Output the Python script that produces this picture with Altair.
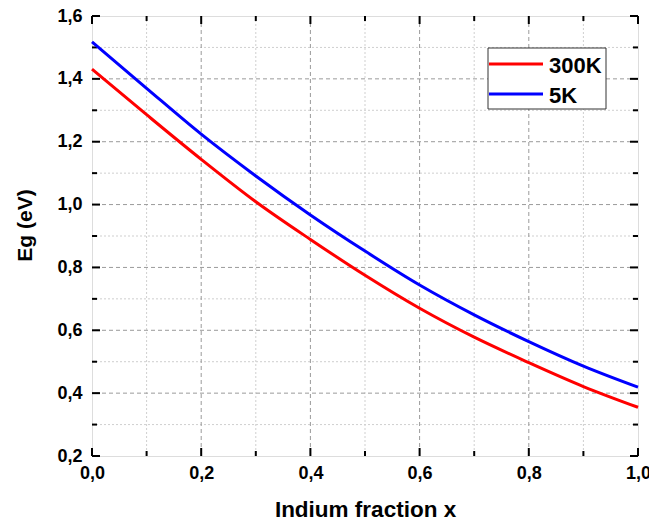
import altair as alt
import pandas as pd

# ---- data ----
indium_x = [0.0, 0.1, 0.2, 0.3, 0.4, 0.5, 0.6, 0.7, 0.8, 0.9, 1.0]
eg_300k = [1.431, 1.286, 1.144, 1.009, 0.889, 0.775, 0.670, 0.578, 0.497, 0.421, 0.355]
eg_5k = [1.518, 1.370, 1.224, 1.091, 0.967, 0.852, 0.744, 0.649, 0.564, 0.486, 0.419]
series_names = ["300K", "5K"]
series_colors = ["#ff0000", "#0000ff"]

x_major = [0.0, 0.2, 0.4, 0.6, 0.8, 1.0]
x_minor = [0.1, 0.3, 0.5, 0.7, 0.9]
y_major = [0.2, 0.4, 0.6, 0.8, 1.0, 1.2, 1.4, 1.6]
y_minor = [0.3, 0.5, 0.7, 0.9, 1.1, 1.3, 1.5]

W, H = 546, 440
FONT = "Liberation Sans"
LBL = "replace(format(datum.value, '.1f'), '.', ',')"

rows = []
for name, vals in zip(series_names, [eg_300k, eg_5k]):
    for xv, yv in zip(indium_x, vals):
        rows.append({"x": xv, "eg": yv, "series": name})
df = pd.DataFrame(rows)

xs = alt.Scale(domain=[0, 1], nice=False, zero=False)
ys = alt.Scale(domain=[0.2, 1.6], nice=False, zero=False)

xgrid_major = pd.DataFrame({"x": x_major[1:-1]})
xgrid_minor = pd.DataFrame({"x": x_minor})
ygrid_major = pd.DataFrame({"eg": y_major[1:-1]})
ygrid_minor = pd.DataFrame({"eg": y_minor})
xt_major = pd.DataFrame({"x": x_major})
xt_minor = pd.DataFrame({"x": x_minor})
yt_major = pd.DataFrame({"eg": y_major})
yt_minor = pd.DataFrame({"eg": y_minor})

layers = []
# minor grid (dotted)
layers.append(alt.Chart(xgrid_minor).mark_rule(color="#cfcfcf", strokeWidth=1, strokeDash=[2, 2]).encode(
    x=alt.X("x:Q", scale=xs)))
layers.append(alt.Chart(ygrid_minor).mark_rule(color="#cfcfcf", strokeWidth=1, strokeDash=[2, 2]).encode(
    y=alt.Y("eg:Q", scale=ys)))
# major grid (dashed)
layers.append(alt.Chart(xgrid_major).mark_rule(color="#9a9a9a", strokeWidth=1, strokeDash=[4, 3]).encode(
    x=alt.X("x:Q", scale=xs)))
layers.append(alt.Chart(ygrid_major).mark_rule(color="#9a9a9a", strokeWidth=1, strokeDash=[4, 3]).encode(
    y=alt.Y("eg:Q", scale=ys)))

# inward ticks on all four sides
for dfx, ln in [(xt_major, 8), (xt_minor, 5)]:
    layers.append(alt.Chart(dfx).mark_rule(color="black", strokeWidth=2).encode(
        x=alt.X("x:Q", scale=xs), y=alt.value(H), y2=alt.value(H - ln)))
    layers.append(alt.Chart(dfx).mark_rule(color="black", strokeWidth=2).encode(
        x=alt.X("x:Q", scale=xs), y=alt.value(0), y2=alt.value(ln)))
for dfy, ln in [(yt_major, 8), (yt_minor, 5)]:
    layers.append(alt.Chart(dfy).mark_rule(color="black", strokeWidth=2).encode(
        y=alt.Y("eg:Q", scale=ys), x=alt.value(0), x2=alt.value(ln)))
    layers.append(alt.Chart(dfy).mark_rule(color="black", strokeWidth=2).encode(
        y=alt.Y("eg:Q", scale=ys), x=alt.value(W), x2=alt.value(W - ln)))

lines = alt.Chart(df).mark_line(strokeWidth=3, interpolate="monotone").encode(
    x=alt.X("x:Q", scale=xs, axis=alt.Axis(
        title="Indium fraction x", values=x_major, labelExpr=LBL, grid=False, ticks=False, domain=False,
        labelFont=FONT, labelFontSize=18, labelFontWeight="bold", labelColor="black", labelPadding=8,
        labelFlush=False, labelOverlap=False,
        titleFont=FONT, titleFontSize=22.5, titleFontWeight="bold", titleColor="black",
        titleY=60, titleBaseline="alphabetic")),
    y=alt.Y("eg:Q", scale=ys, axis=alt.Axis(
        title="Eg (eV)", values=y_major, labelExpr=LBL, grid=False, ticks=False, domain=False,
        labelFont=FONT, labelFontSize=18, labelFontWeight="bold", labelColor="black", labelPadding=10,
        labelFlush=False, labelOverlap=False,
        titleFont=FONT, titleFontSize=21, titleFontWeight="bold", titleColor="black",
        titleX=-61, titleY=209, titleAngle=-90, titleAlign="center", titleBaseline="alphabetic")),
    color=alt.Color("series:N", scale=alt.Scale(domain=series_names, range=series_colors),
                    sort=series_names, legend=None),
)
layers.append(lines)

# legend box (upper right, inside the plot)
LX0, LX1, LY0, LY1 = 396, 514, 32, 93
layers.append(alt.Chart(pd.DataFrame({"k": [0]})).mark_rect(
    fill="white", stroke="#333333", strokeWidth=1).encode(
    x=alt.value(LX0), x2=alt.value(LX1), y=alt.value(LY0), y2=alt.value(LY1)))
row_y = [48, 78]
for i, (name, col) in enumerate(zip(series_names, series_colors)):
    one = pd.DataFrame({"series": [name]})
    layers.append(alt.Chart(one).mark_rule(color=col, strokeWidth=3).encode(
        x=alt.value(LX0 + 1), x2=alt.value(LX0 + 55), y=alt.value(row_y[i])))
    layers.append(alt.Chart(one).mark_text(
        font=FONT, fontSize=22, fontWeight="bold", color="black", align="left",
        baseline="alphabetic").encode(
        x=alt.value(LX0 + 61), y=alt.value(row_y[i] + 9), text="series:N"))

chart = alt.layer(*layers).properties(
    width=W, height=H, autosize=alt.AutoSizeParams(type="none"),
    padding={"left": 92, "top": 16, "right": 11, "bottom": 66},
).configure_view(stroke="black", strokeWidth=2).configure(background="white")

chart.save("out.html", embed_options={"renderer": "svg", "actions": False})
